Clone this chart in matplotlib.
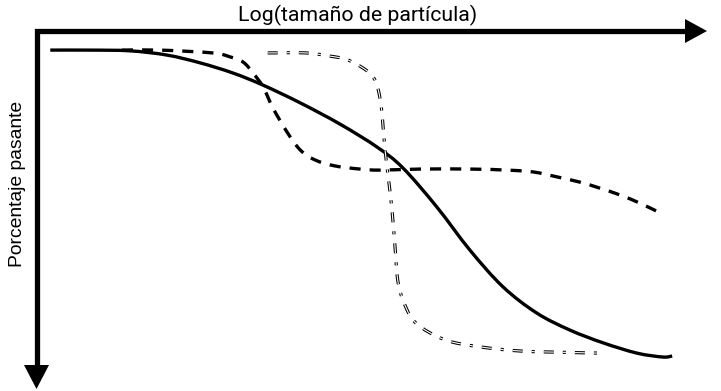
import matplotlib
matplotlib.use("Agg")
import matplotlib.pyplot as plt
from matplotlib.path import Path
from matplotlib.patches import PathPatch

plt.rcParams['lines.scale_dashes'] = False

# Curve data: x = log(particle size) in arbitrary units (0-100), y = position along the downward axis (0-100)
solid_x = [2.0, 8.0, 14.0, 19.6, 24.6, 29.6, 34.1, 39.7, 45.7, 51.3, 55.2, 60.3, 65.3, 70.3,
           75.4, 80.4, 85.4, 90.5, 94.4, 95.8]
solid_y = [5.4, 5.4, 5.6, 6.8, 9.0, 11.9, 15.3, 20.3, 26.3, 32.8, 38.7, 49.7, 61.9, 72.3,
           79.7, 84.5, 88.1, 91.0, 92.1, 91.8]

dashed_x = [12.8, 18.6, 26.5, 29.1, 31.1, 32.6, 34.1, 35.6, 37.7, 39.7, 41.9, 44.9, 48.7,
            51.7, 57.8, 65.3, 70.9, 74.8, 78.4, 81.9, 84.9, 87.9, 90.9, 94.0]
dashed_y = [5.4, 5.4, 6.2, 7.3, 8.8, 11.9, 15.8, 21.8, 28.5, 33.6, 36.4, 38.1, 39.0,
            39.3, 39.0, 39.0, 39.3, 39.8, 41.2, 42.7, 44.4, 46.3, 48.6, 51.4]

dashdot_x = [34.8, 40.6, 44.2, 46.5, 48.4, 49.8, 50.8, 51.4, 51.9, 52.2, 52.5, 52.9, 53.5,
             54.0, 54.4, 55.2, 56.7, 59.3, 62.7, 67.9, 72.9, 77.8, 84.9]
dashdot_y = [6.2, 6.2, 7.1, 7.9, 9.6, 11.3, 13.3, 16.1, 20.9, 27.1, 33.6, 40.1, 49.7,
             61.0, 70.3, 76.0, 81.6, 85.3, 87.9, 89.5, 90.4, 90.7, 91.0]

x_label = "Log(tamaño de partícula)"
y_label = "Porcentaje pasante"


def smooth_path(xs, ys):
    """Bezier path passing through the given points (Catmull-Rom tangents)."""
    pts = list(zip(xs, ys))
    n = len(pts)
    verts = [pts[0]]
    codes = [Path.MOVETO]
    for i in range(n - 1):
        p0 = pts[i - 1] if i > 0 else pts[i]
        p1 = pts[i]
        p2 = pts[i + 1]
        p3 = pts[i + 2] if i + 2 < n else pts[i + 1]
        c1 = (p1[0] + (p2[0] - p0[0]) / 6, p1[1] + (p2[1] - p0[1]) / 6)
        c2 = (p2[0] - (p3[0] - p1[0]) / 6, p2[1] - (p3[1] - p1[1]) / 6)
        verts += [c1, c2, p2]
        codes += [Path.CURVE4] * 3
    return Path(verts, codes)


W, H = 721, 391
fig = plt.figure(figsize=(W / 100, H / 100), dpi=100)
fig.patch.set_facecolor('white')

# Overlay axes in pixel units for the axis arrows and labels
ov = fig.add_axes([0, 0, 1, 1])
ov.set_xlim(0, W)
ov.set_ylim(H, 0)
ov.axis('off')

# Main data axes
ax = fig.add_axes([37 / W, (H - 385) / H, 663 / W, 354 / H])
ax.set_xlim(0, 100)
ax.set_ylim(100, 0)
ax.axis('off')
ax.patch.set_alpha(0)


def draw(xs, ys, color, lw, ls):
    ax.add_patch(PathPatch(smooth_path(xs, ys), fill=False, edgecolor=color,
                           lw=lw, linestyle=ls, capstyle='butt', joinstyle='round'))


draw(solid_x, solid_y, 'black', 2.4, '-')
draw(dashed_x, dashed_y, 'black', 2.4, (0, (8, 6.5)))
dd = (0, (7.2, 6.5, 2.2, 6.5))
draw(dashdot_x, dashdot_y, 'black', 2.3, dd)
draw(dashdot_x, dashdot_y, 'white', 0.8, dd)

# Axis arrows
ov.plot([686, 36.5, 36.5], [30.5, 30.5, 366], color='black', lw=3.8,
        solid_joinstyle='miter', solid_capstyle='butt')
ov.fill([685, 707, 685], [19, 31, 43], color='black', lw=0)
ov.fill([24, 49, 36.5], [365, 365, 389], color='black', lw=0)

ov.text(357.5, 15, x_label, ha='center', va='center', fontsize=15.3,
        family=['Roboto', 'DejaVu Sans'])
ov.text(18, 184, y_label, ha='center', va='center', rotation=90, fontsize=13.9,
        family=['Liberation Sans', 'DejaVu Sans'])

fig.savefig('out.png', dpi=100, facecolor='white')
